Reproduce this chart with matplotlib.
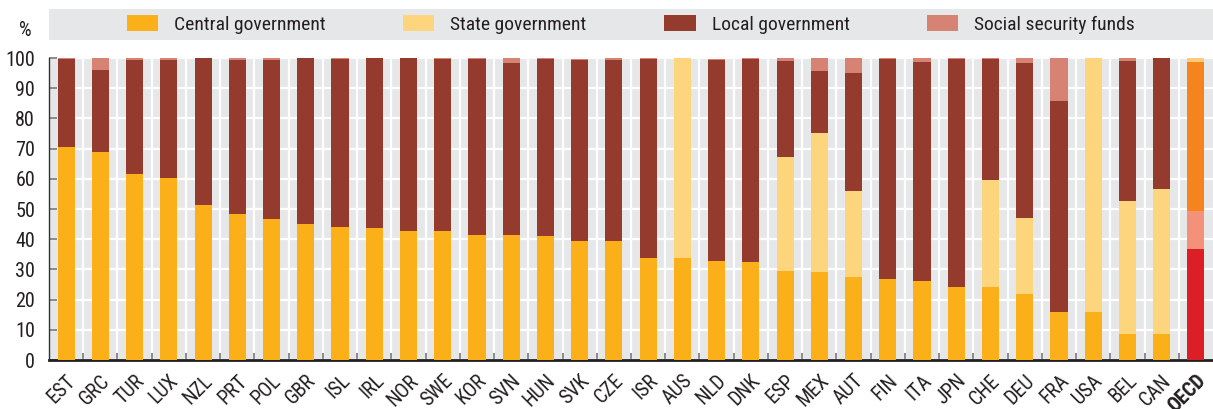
import matplotlib
matplotlib.use("Agg")
import matplotlib.pyplot as plt
from matplotlib.patches import Rectangle, Patch
import numpy as np

plt.rcParams['font.family'] = ['Roboto Condensed', 'Liberation Sans Narrow',
                               'Liberation Sans', 'DejaVu Sans']

countries = ["EST", "GRC", "TUR", "LUX", "NZL", "PRT", "POL", "GBR", "ISL", "IRL",
             "NOR", "SWE", "KOR", "SVN", "HUN", "SVK", "CZE", "ISR", "AUS", "NLD",
             "DNK", "ESP", "MEX", "AUT", "FIN", "ITA", "JPN", "CHE", "DEU", "FRA",
             "USA", "BEL", "CAN", "OECD"]

central = [70.4, 68.9, 61.7, 60.3, 51.3, 48.5, 46.7, 45.0, 44.0, 43.7,
           42.7, 42.7, 41.4, 41.4, 41.1, 39.4, 39.4, 33.8, 33.8, 32.8,
           32.5, 29.5, 29.1, 27.5, 26.8, 26.2, 24.2, 24.2, 21.9, 15.9,
           15.9, 8.6, 8.6, 36.8]
state = [0, 0, 0, 0, 0, 0, 0, 0, 0, 0,
         0, 0, 0, 0, 0, 0, 0, 0, 66.2, 0,
         0, 37.7, 46.1, 28.5, 0, 0, 0, 35.4, 25.1, 0,
         84.1, 44.0, 48.0, 12.5]
local = [29.4, 27.2, 37.6, 39.0, 48.7, 50.8, 52.6, 55.0, 55.7, 56.3,
         57.3, 57.0, 58.3, 57.1, 58.6, 59.9, 59.9, 65.9, 0, 66.5,
         67.2, 31.8, 20.5, 39.0, 72.9, 72.5, 75.5, 40.1, 51.3, 69.9,
         0, 46.4, 43.4, 49.4]
social = [0.2, 3.9, 0.7, 0.7, 0, 0.7, 0.7, 0, 0.3, 0,
          0, 0.3, 0.3, 1.5, 0.3, 0.3, 0.7, 0.3, 0, 0.4,
          0.3, 1.0, 4.3, 5.0, 0.3, 1.3, 0.3, 0.3, 1.7, 14.2,
          0, 1.0, 0, 1.3]

series_names = ["Central government", "State government", "Local government", "Social security funds"]
series_colors = ["#FBAF19", "#FDD57D", "#943B2E", "#D68373"]
oecd_colors = ["#DC1E26", "#F39179", "#F5841F", "#FDC97A"]

W, H = 1213, 409
fig = plt.figure(figsize=(W / 100, H / 100), dpi=100)
ax = fig.add_axes([49 / W, (H - 360) / H, (W - 49) / W, (360 - 58) / H])
ax.set_facecolor("#E6E7E9")

x = np.arange(len(countries))
n = len(countries)
bottom = np.zeros(n)
handles = []
for vals, name, col, ocol in zip([central, state, local, social], series_names,
                                 series_colors, oecd_colors):
    v = np.array(vals, dtype=float)
    colors = [col] * (n - 1) + [ocol]
    ax.bar(x, v, width=0.5, bottom=bottom, color=colors, zorder=3, linewidth=0)
    bottom += v
    handles.append(Patch(facecolor=col, edgecolor="none", label=name))

ax.set_xlim(-0.5, n - 0.5)
ax.set_ylim(0, 100)
ax.set_yticks(np.arange(0, 101, 10))
ax.set_xticks(x)
ax.set_xticks(np.arange(0.5, n - 0.5, 1), minor=True)

ax.yaxis.grid(True, color="white", linewidth=1.6, zorder=1)
ax.xaxis.grid(True, which="minor", color="white", linewidth=1.6, zorder=1)
ax.xaxis.grid(False, which="major")
ax.set_axisbelow(True)

for s in ["top", "right"]:
    ax.spines[s].set_visible(False)
ax.spines["left"].set_color("#333333")
ax.spines["left"].set_linewidth(1.0)
ax.spines["bottom"].set_color("#231F20")
ax.spines["bottom"].set_linewidth(2.0)

ax.tick_params(axis="x", which="major", length=0, pad=8)
ax.tick_params(axis="x", which="minor", direction="in", length=5, width=1.2, color="#777777")
ax.tick_params(axis="y", direction="in", length=6, width=1.2, color="#777777",
               labelsize=14.5, labelcolor="#231F20", pad=10)

labels = ax.set_xticklabels(countries, rotation=45, ha="right", rotation_mode="anchor",
                            fontsize=14.5, color="#231F20")
labels[-1].set_fontweight("bold")

fig.text(19 / W, (H - 31) / H, "%", fontsize=14.5, color="#231F20", va="center", ha="left")

# legend band
fig.patches.append(Rectangle((49 / W, (H - 40) / H), (W - 49) / W, 31 / H,
                             transform=fig.transFigure, facecolor="#E6E7E9",
                             edgecolor="none", zorder=0))
fig.legend(handles=handles, loc="center", bbox_to_anchor=(631 / W, (H - 24.5) / H),
           ncol=4, frameon=False, fontsize=14, handlelength=1.6, handleheight=0.85,
           handletextpad=0.82, columnspacing=4.0, labelcolor="#231F20")

fig.savefig("out.png", dpi=100)
